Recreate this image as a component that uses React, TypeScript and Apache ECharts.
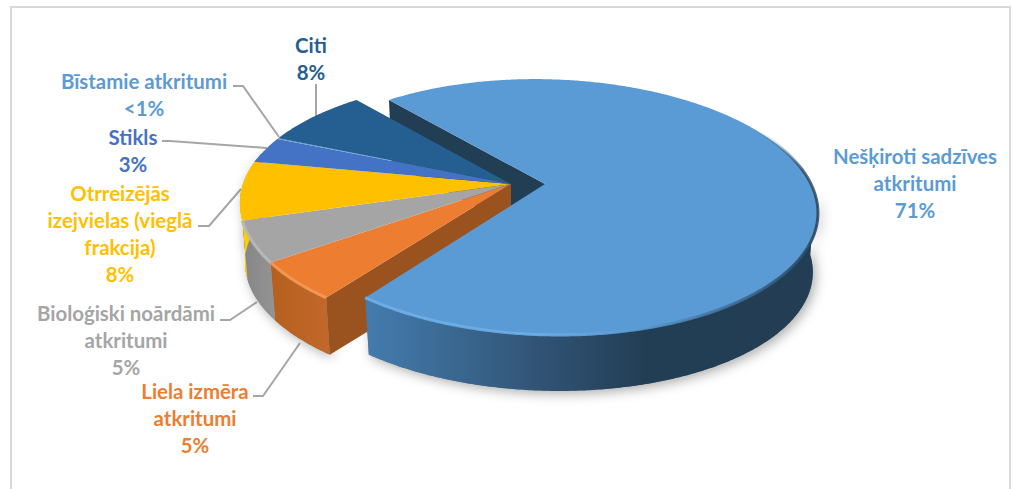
import React, { useEffect, useRef } from "react";
import * as echarts from "echarts";

const categories = [
  "Nešķiroti sadzīves\natkritumi",
  "Liela izmēra\natkritumi",
  "Bioloģiski noārdāmi\natkritumi",
  "Otrreizējās\nizejvielas (vieglā\nfrakcija)",
  "Stikls",
  "Bīstamie atkritumi",
  "Citi",
];
const percentLabels = ["71%", "5%", "5%", "8%", "3%", "<1%", "8%"];
const values = [71.4, 4.8, 5.1, 7.5, 3.4, 0.1, 7.6];

const faceColors = ["#5b9bd5", "#ed7d31", "#a5a5a5", "#ffc000", "#4472c4", "#5b9bd5", "#255e91"];
const labelColors = ["#5b9bd5", "#ed7d31", "#a5a5a5", "#ffc000", "#4472c4", "#5b9bd5", "#255e91"];
const labelCenters = [[915, 183], [195, 418], [126, 340], [120, 233], [133, 150], [144, 94], [311, 58]];
const leaderLines = [
  null,
  [[253, 396], [263, 396], [300, 343]],
  [[220, 320], [230, 320], [257, 302]],
  [[198, 226], [209, 226], [241, 189]],
  [[162, 141], [170, 141], [267, 148]],
  [[233, 86], [243, 86], [279, 137]],
  [[316, 84], [316, 117]],
];

const EXPLODED = 0;
const START = -39.3;
const APEX_Y = 184;
const APEX_X = 511;
const APEX_X_EXPLODED = 545;
const R_MAIN = 266;
const R_REST = 268;
const SHRINK_BOTTOM = 5;
const SHEAR_MAIN = 12;
const SHEAR_REST = 8;
const A = 123.8;
const A_BOTTOM = 120.5;
const K = 0.18;
const H = 60;
const total = values.reduce((a, b) => a + b, 0);

const wallFills = [
  [[0, "#447cae"], [0.42, "#2f5070"], [0.62, "#223e55"], [1, "#223d54"]],
  [[0, "#b5601f"], [1, "#c2682a"]],
  [[0, "#858585"], [1, "#949494"]],
  [[0, "#ffd000"], [1, "#ffc800"]],
];
const rimFills = [
  [[0, "#6fb0ea"], [0.4, "#6aaee9"], [0.62, "#5b9bd5"], [0.85, "#3f6a92"], [1, "#2a4a66"]],
  [[0, "#f39a58"], [1, "#f59a58"]],
  [[0, "#b8b8b8"], [1, "#bcbcbc"]],
  null,
];

const gradient = (stops: any) =>
  new echarts.graphic.LinearGradient(0, 0, 1, 0, stops.map((s: any) => ({ offset: s[0], color: s[1] })));

function planePoint(cx: number, deg: number, rad: number, shear: number, amp: number, dy: number) {
  const t = (deg * Math.PI) / 180;
  const u = Math.sin(t);
  const v = -Math.cos(t);
  const w = 1 - K * v;
  return [cx + (rad * u + shear * v) / w, APEX_Y + dy + (amp * v) / w];
}

function arc(fn: any, a: number, b: number) {
  const pts = [];
  const n = Math.max(2, Math.ceil((b - a) * 2));
  for (let i = 0; i <= n; i++) pts.push(fn(a + ((b - a) * i) / n));
  return pts;
}

const renderItem = (params: any, api: any) => {
  const i = params.dataIndex;
  const before = values.slice(0, i).reduce((a, b) => a + b, 0);
  const start = START + (before / total) * 360;
  const end = start + (api.value(0) / total) * 360;
  const exploded = i === EXPLODED;
  const cx = exploded ? APEX_X_EXPLODED : APEX_X;
  const rad = exploded ? R_MAIN : R_REST;
  const shear = exploded ? SHEAR_MAIN : SHEAR_REST;
  const topPoint = (deg: number) => planePoint(cx, deg, rad, shear, A, 0);
  const bottomPoint = (deg: number) => planePoint(cx, deg, rad - SHRINK_BOTTOM, shear, A_BOTTOM, H);
  const base = exploded ? 40 : 10;
  const apexTop = [cx, APEX_Y];
  const apexBottom = [cx, APEX_Y + H];
  const children: any[] = [];

  const wa = Math.max(start, 95);
  const wb = Math.min(end, 285);

  if (wb > wa) {
    children.push({
      type: "polygon",
      z2: 0,
      shape: { points: [...arc(topPoint, wa, wb), ...arc(bottomPoint, wa, wb).reverse()] },
      style: {
        fill: "#888",
        shadowBlur: 12,
        shadowColor: "rgba(0,0,0,0.32)",
        shadowOffsetY: 3,
        shadowOffsetX: 3,
      },
    });
  }

  if (exploded) {
    children.push({
      type: "polygon",
      z2: 1,
      shape: { points: [apexTop, topPoint(start), bottomPoint(start), apexBottom] },
      style: { fill: "#223e55" },
    });
  }
  if (i === EXPLODED + 1) {
    children.push({
      type: "polygon",
      z2: 25,
      shape: { points: [apexTop, topPoint(start), bottomPoint(start), apexBottom] },
      style: { fill: "#9a521e" },
    });
  }

  if (wb > wa) {
    children.push({
      type: "polygon",
      z2: base + i,
      shape: { points: [...arc(topPoint, wa, wb), ...arc(bottomPoint, wa, wb).reverse()] },
      style: { fill: gradient(wallFills[i] || [[0, faceColors[i]], [1, faceColors[i]]]) },
    });
  }

  children.push({
    type: "polygon",
    z2: base + 16,
    shape: { points: [apexTop, ...arc(topPoint, start, end)] },
    style: { fill: faceColors[i] },
  });

  if (rimFills[i]) {
    const ra = exploded ? 118 : wa;
    children.push({
      type: "polyline",
      z2: base + 18,
      shape: { points: arc(topPoint, ra, end) },
      style: { fill: "none", stroke: gradient(rimFills[i]), lineWidth: 3, opacity: 0.9 },
    });
  }
  if (exploded) {
    children.push({
      type: "polyline",
      z2: base + 18,
      shape: { points: arc(topPoint, 62, 118) },
      style: {
        fill: "none",
        lineWidth: 3,
        stroke: new echarts.graphic.LinearGradient(0, 0, 0, 1, [
          { offset: 0, color: "rgba(42,74,102,0)" },
          { offset: 0.35, color: "rgba(34,61,84,0.75)" },
          { offset: 1, color: "rgba(42,74,102,0.9)" },
        ]),
      },
    });
  }
  return { type: "group", children };
};

export default function App() {
  const ref = useRef<HTMLDivElement>(null);
  useEffect(() => {
    document.body.style.margin = "0";
    document.body.style.background = "#fff";
    const chart = echarts.init(ref.current!, undefined, { renderer: "svg" });
    const graphic: any[] = [
      {
        type: "rect",
        shape: { x: 11, y: 7, width: 999, height: 500 },
        style: { fill: "#fff", stroke: "#d9d9d9", lineWidth: 2 },
      },
    ];
    leaderLines.forEach((pts) => {
      if (pts) {
        graphic.push({
          type: "polyline",
          shape: { points: pts },
          style: { fill: "none", stroke: "#a6a6a6", lineWidth: 2 },
        });
      }
    });
    categories.forEach((cat, i) => {
      graphic.push({
        type: "text",
        x: labelCenters[i][0],
        y: labelCenters[i][1],
        style: {
          text: `${cat}\n${percentLabels[i]}`,
          fill: labelColors[i],
          font: "bold 20.4px Lato",
          align: "center",
          verticalAlign: "middle",
          lineHeight: 27,
        },
      });
    });
    chart.setOption({
      animation: false,
      backgroundColor: "#fff",
      graphic,
      series: [
        {
          type: "custom",
          coordinateSystem: "none",
          renderItem,
          data: values,
          silent: true,
          z: 5,
        },
      ],
    });
    return () => chart.dispose();
  }, []);
  return <div ref={ref} style={{ width: 1013, height: 489 }} />;
}
